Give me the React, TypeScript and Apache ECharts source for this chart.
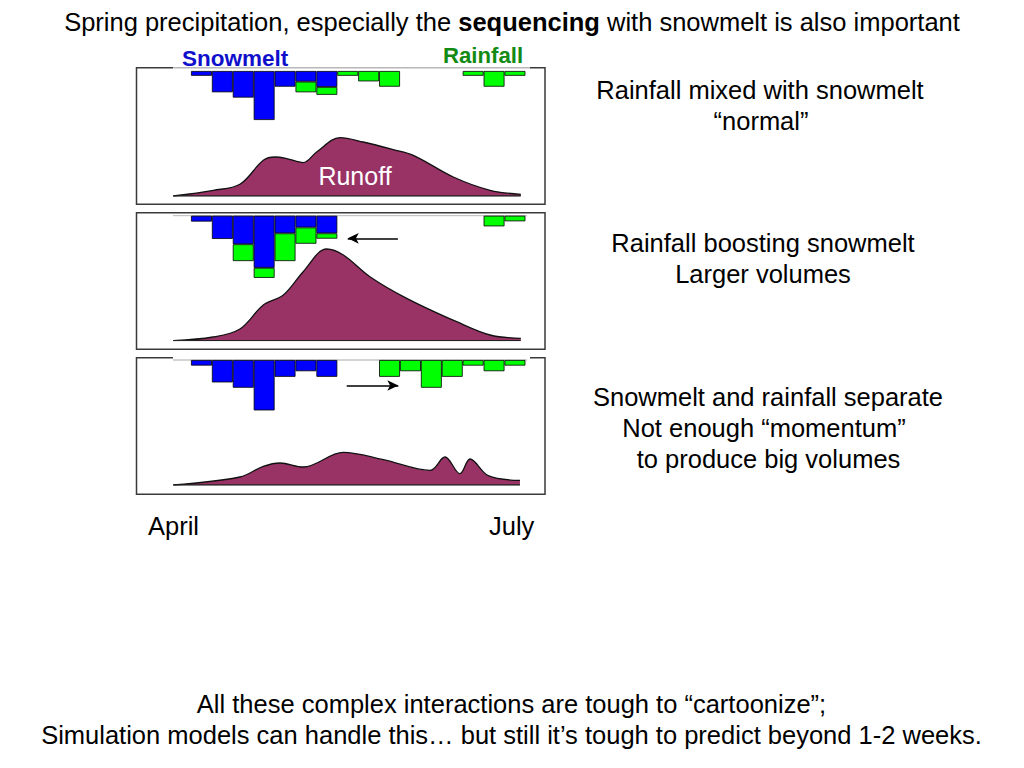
import React, { useEffect, useRef } from 'react';
import * as echarts from 'echarts';

const FONT = '"Liberation Sans", Arial, Helvetica, sans-serif';

// Weekly bins from April to July (first slot is an empty lead-in)
const weeks = ['', 'W1', 'W2', 'W3', 'W4', 'W5', 'W6', 'W7', 'W8', 'W9', 'W10', 'W11', 'W12', 'W13', 'W14', 'W15', 'W16'];

// Values per week (mm-like units); null = no bar
const snowP1 = [0.85, 3.8, 4.75, 8.75, 2.8, 1.9, 2.85, null, null, null, null, null, null, null, null, null];
const rainP1 = [null, null, null, null, null, 1.9, 1.4, 0.85, 1.85, 2.8, null, null, null, 0.85, 2.8, 0.85];
const snowP2 = [1.05, 4.15, 5.1, 9.3, 3.15, 2.1, 3.15, null, null, null, null, null, null, null, null, null];
const rainP2 = [null, null, 3.0, 1.8, 4.95, 2.9, 0.95, null, null, null, null, null, null, null, 1.9, 1.0];
const snowP3 = [1.0, 4.0, 4.95, 9.0, 3.0, 2.0, 3.0, null, null, null, null, null, null, null, null, null];
const rainP3 = [null, null, null, null, null, null, null, null, null, 3.0, 2.0, 4.95, 3.0, 1.0, 2.0, 1.0];

// Runoff hydrographs: [week position, flow]
const runoffP1 = [
  [-0.85, 0], [1.07, 5.7], [2.34, 11.7], [3.46, 35.7], [4.02, 39], [4.58, 37.4],
  [5.37, 33.4], [6.01, 44], [7.13, 58.4], [8.24, 54], [9.68, 46.4], [10.64, 40.7],
  [12.55, 19], [14.31, 5.7], [15.78, 1.7],
];
const runoffP2 = [
  [-0.85, 0], [1.05, 3.7], [2.34, 11.7], [3.46, 35.7], [4.42, 45.7], [5.37, 69],
  [6.49, 91.7], [7.29, 85.7], [8.56, 64], [10.32, 42.4], [12.71, 19], [14.31, 5.7],
  [15.78, 2.4],
];
const runoffP3 = [
  [-0.85, 0], [2.34, 8], [3.46, 18.6], [4.26, 22], [5.37, 18], [7.29, 32.6],
  [9.2, 25.3], [11.44, 14.6], [12.15, 28], [12.87, 11.3], [13.35, 26], [14.22, 9.3],
  [15.74, 4.6],
];

// Arrows (week position, bar-axis depth)
const arrowP2 = [[9.9, 4.04], [7.5, 4.04]];
const arrowP3 = [[7.45, 4.55], [9.92, 4.55]];

const panels = [
  { snow: snowP1, rain: rainP1, runoff: runoffP1, arrow: null as any },
  { snow: snowP2, rain: rainP2, runoff: runoffP2, arrow: arrowP2 },
  { snow: snowP3, rain: rainP3, runoff: runoffP3, arrow: arrowP3 },
];

const GRID_TOPS = [71, 215.7, 360];
const GRID_H = 125;
const COL_W = 20.9;
const GRID_LEFT = 191 - COL_W;
const GRID_W = COL_W * 17;
const PX_PER_UNIT = 5.6;

const SNOW_COLOR = '#0000FF';
const RAIN_COLOR = '#00FF00';
const RUNOFF_COLOR = '#993366';
const FS = 25.5;

function toBars(arr: (number | null)[]) {
  return ['-', ...arr.map((v) => (v == null ? '-' : v))];
}

function text(x: number, y: number, str: string, opts: any = {}) {
  return {
    type: 'text',
    x,
    y,
    z: 20,
    style: {
      text: str,
      fontSize: opts.fontSize ?? FS,
      fontFamily: FONT,
      fontWeight: opts.fontWeight ?? 'normal',
      fill: opts.fill ?? '#000',
      align: opts.align ?? 'center',
      verticalAlign: 'middle',
    },
  };
}

export default function App() {
  const ref = useRef<HTMLDivElement>(null);

  useEffect(() => {
    if (!ref.current) return;
    const chart = echarts.init(ref.current, null, { renderer: 'svg' });

    const grid: any[] = [];
    const xAxis: any[] = [];
    const yAxis: any[] = [];
    const series: any[] = [];

    panels.forEach((p, i) => {
      grid.push({ left: GRID_LEFT, top: GRID_TOPS[i], width: GRID_W, height: GRID_H });
      // category axis for bars, value axis for runoff (aligned: 17 slots == -1..16)
      xAxis.push({ type: 'category', gridIndex: i, data: weeks, boundaryGap: true, show: false });
      xAxis.push({ type: 'value', gridIndex: i, min: -1, max: 16, show: false });
      yAxis.push({ type: 'value', gridIndex: i, min: 0, max: GRID_H / PX_PER_UNIT, inverse: true, show: false });
      yAxis.push({ type: 'value', gridIndex: i, min: 0, max: GRID_H, show: false });
      const barX = i * 2;
      const runX = i * 2 + 1;
      const barY = i * 2;
      const runY = i * 2 + 1;
      series.push({
        type: 'line',
        name: 'Runoff',
        xAxisIndex: runX,
        yAxisIndex: runY,
        data: p.runoff,
        smooth: 0.35,
        symbol: 'none',
        lineStyle: { color: '#111', width: 1.3 },
        areaStyle: { color: RUNOFF_COLOR, opacity: 1 },
        z: 2,
      });
      series.push({
        type: 'line',
        xAxisIndex: runX,
        yAxisIndex: runY,
        data: [p.runoff[0], [p.runoff[p.runoff.length - 1][0], 0]],
        symbol: 'none',
        lineStyle: { color: '#222', width: 1.3 },
        z: 3,
      });
      series.push({
        type: 'bar',
        name: 'Snowmelt',
        xAxisIndex: barX,
        yAxisIndex: barY,
        stack: 'p' + i,
        barWidth: COL_W,
        data: toBars(p.snow),
        itemStyle: { color: SNOW_COLOR, borderColor: '#000', borderWidth: 0.8 },
        z: 4,
      });
      const rainSeries: any = {
        type: 'bar',
        name: 'Rainfall',
        xAxisIndex: barX,
        yAxisIndex: barY,
        stack: 'p' + i,
        barWidth: COL_W,
        data: toBars(p.rain),
        itemStyle: { color: RAIN_COLOR, borderColor: '#000', borderWidth: 0.8 },
        z: 4,
      };
      series.push(rainSeries);
      if (p.arrow) {
        series.push({
          type: 'line',
          xAxisIndex: runX,
          yAxisIndex: barY,
          data: [],
          markLine: {
            silent: true,
            symbol: ['none', 'arrow'],
            symbolSize: [8, 11],
            label: { show: false },
            lineStyle: { color: '#000', width: 1.5, type: 'solid' },
            data: [[{ coord: p.arrow[0] }, { coord: p.arrow[1] }]],
          },
          z: 5,
        });
      }
    });

    const boxes = [
      [67.7, 204.2],
      [212.7, 349.3],
      [357.7, 494.3],
    ];

    const graphic: any[] = [];
    boxes.forEach(([t, b]) => {
      graphic.push({
        type: 'rect',
        z: 0,
        shape: { x: 136.5, y: t, width: 408.5, height: b - t },
        style: { fill: 'none', stroke: '#3a3a3a', lineWidth: 1.5 },
      });
    });
    // light baselines at top of bar area
    graphic.push({ type: 'line', z: 1, shape: { x1: 173, y1: 67.7, x2: 530, y2: 67.7 }, style: { stroke: '#fff', lineWidth: 2.2 } });
    graphic.push({ type: 'line', z: 1, shape: { x1: 173, y1: 67.7, x2: 530, y2: 67.7 }, style: { stroke: '#a8a8a8', lineWidth: 1 } });
    graphic.push({ type: 'line', z: 1, shape: { x1: 173, y1: 215.7, x2: 527, y2: 215.7 }, style: { stroke: '#b8b8b8', lineWidth: 1 } });
    graphic.push({ type: 'line', z: 1, shape: { x1: 173, y1: 357.7, x2: 530, y2: 357.7 }, style: { stroke: '#fff', lineWidth: 2.6 } });
    graphic.push({ type: 'line', z: 1, shape: { x1: 173, y1: 360, x2: 527, y2: 360 }, style: { stroke: '#a8a8a8', lineWidth: 1 } });

    graphic.push({
      type: 'text',
      x: 512,
      y: 22,
      z: 20,
      style: {
        text: '{n|Spring precipitation, especially the }{b|sequencing}{n| with snowmelt is also important}',
        align: 'center',
        verticalAlign: 'middle',
        rich: {
          n: { fontSize: FS, fontFamily: FONT, fill: '#000' },
          b: { fontSize: FS, fontFamily: FONT, fontWeight: 'bold', fill: '#000' },
        },
      },
    });
    graphic.push(text(182, 58, 'Snowmelt', { align: 'left', fontSize: 22.5, fontWeight: 'bold', fill: '#1010CC' }));
    graphic.push(text(443, 55, 'Rainfall', { align: 'left', fontSize: 22.2, fontWeight: 'bold', fill: '#138A13' }));
    graphic.push(text(355, 176, 'Runoff', { fontSize: 25, fill: '#ffffff' }));

    graphic.push(text(760, 90, 'Rainfall mixed with snowmelt'));
    graphic.push(text(761, 121, '\u201cnormal\u201d'));
    graphic.push(text(763, 243, 'Rainfall boosting snowmelt'));
    graphic.push(text(763, 274, 'Larger volumes'));
    graphic.push(text(768, 397, 'Snowmelt and rainfall separate'));
    graphic.push(text(764, 428, 'Not enough \u201cmomentum\u201d'));
    graphic.push(text(768.5, 459, 'to produce big volumes'));

    graphic.push(text(148, 526, 'April', { align: 'left' }));
    graphic.push(text(489, 526, 'July', { align: 'left' }));

    graphic.push(text(511.5, 704, 'All these complex interactions are tough to \u201ccartoonize\u201d;'));
    graphic.push(text(511.5, 735, 'Simulation models can handle this\u2026 but still it\u2019s tough to predict beyond 1-2 weeks.'));

    chart.setOption({
      animation: false,
      backgroundColor: '#ffffff',
      grid,
      xAxis,
      yAxis,
      series,
      graphic,
    });

    return () => chart.dispose();
  }, []);

  return (
    <div
      ref={ref}
      style={{ position: 'absolute', left: 0, top: 0, width: 1024, height: 768, background: '#fff' }}
    />
  );
}
